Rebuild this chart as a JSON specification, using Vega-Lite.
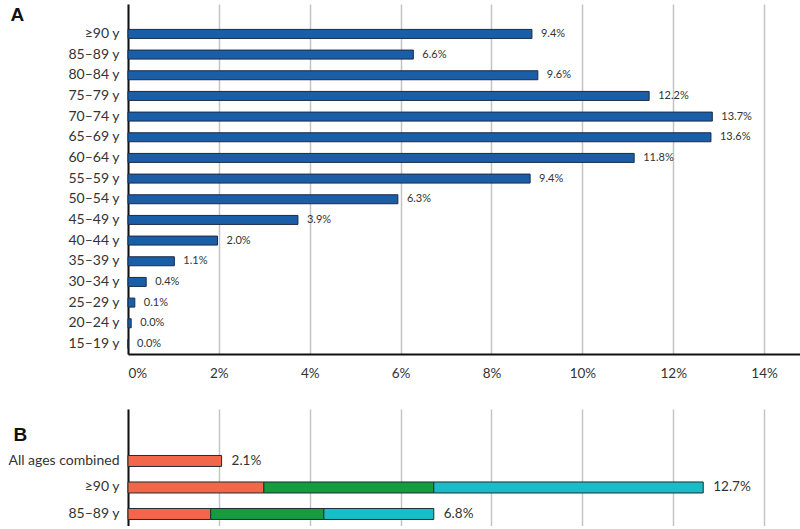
{
  "$schema": "https://vega.github.io/schema/vega-lite/v6.json",
  "padding": {"left": 7, "top": 4, "right": 0, "bottom": 0},
  "autosize": {"type": "pad"},
  "background": "white",
  "spacing": 29,
  "config": {
    "font": "Lato",
    "view": {"stroke": null},
    "axis": {
      "labelFont": "Lato",
      "labelColor": "#333333",
      "ticks": false,
      "gridColor": "#c4c4c4",
      "gridWidth": 1.5,
      "domainColor": "#111111",
      "domainWidth": 2,
      "titleFont": "Liberation Sans",
      "titleFontSize": 19,
      "titleFontWeight": "bold",
      "titleColor": "#111111",
      "titleAngle": 0,
      "titleAlign": "left",
      "titleBaseline": "alphabetic"
    }
  },
  "vconcat": [
    {
      "width": 672,
      "height": 350,
      "data": {"values": [
        {"age": "≥90 y", "bar": 8.89, "label": "9.4%"},
        {"age": "85–89 y", "bar": 6.28, "label": "6.6%"},
        {"age": "80–84 y", "bar": 9.02, "label": "9.6%"},
        {"age": "75–79 y", "bar": 11.47, "label": "12.2%"},
        {"age": "70–74 y", "bar": 12.86, "label": "13.7%"},
        {"age": "65–69 y", "bar": 12.83, "label": "13.6%"},
        {"age": "60–64 y", "bar": 11.14, "label": "11.8%"},
        {"age": "55–59 y", "bar": 8.85, "label": "9.4%"},
        {"age": "50–54 y", "bar": 5.94, "label": "6.3%"},
        {"age": "45–49 y", "bar": 3.74, "label": "3.9%"},
        {"age": "40–44 y", "bar": 1.97, "label": "2.0%"},
        {"age": "35–39 y", "bar": 1.02, "label": "1.1%"},
        {"age": "30–34 y", "bar": 0.40, "label": "0.4%"},
        {"age": "25–29 y", "bar": 0.15, "label": "0.1%"},
        {"age": "20–24 y", "bar": 0.07, "label": "0.0%"},
        {"age": "15–19 y", "bar": 0.0, "label": "0.0%"}
      ]},
      "encoding": {
        "y": {"field": "age", "type": "nominal", "sort": null,
          "scale": {"paddingInner": 0.565, "paddingOuter": 0.75, "align": 0.82},
          "axis": {"labelFontSize": 14, "labelPadding": 9, "grid": false,
            "title": "A", "titleX": -118, "titleY": 16}}
      },
      "layer": [
        {
          "mark": {"type": "bar", "fill": "#1a5ea8", "stroke": "#1b2b45", "strokeWidth": 1},
          "encoding": {
            "x": {"field": "bar", "type": "quantitative",
              "scale": {"domain": [0, 14.79], "nice": false},
              "axis": {"values": [0, 2, 4, 6, 8, 10, 12, 14], "labelExpr": "datum.value + '%'", "labelFontSize": 13.5, "labelPadding": 12, "grid": true, "title": null}}
          }
        },
        {
          "mark": {"type": "text", "align": "left", "dx": 9, "fontSize": 11, "color": "#333333"},
          "encoding": {
            "x": {"field": "bar", "type": "quantitative"},
            "text": {"field": "label"}
          }
        }
      ]
    },
    {
      "width": 672,
      "height": 117,
      "encoding": {
        "y": {"field": "age", "type": "nominal", "sort": null,
          "scale": {"domain": ["All ages combined", "≥90 y", "85–89 y"], "paddingInner": 0.585, "paddingOuter": 1, "align": 0.877},
          "axis": {"labelFontSize": 14, "labelPadding": 9, "grid": false,
            "title": "B", "titleX": -115, "titleY": 31}}
      },
      "layer": [
        {
          "data": {"values": [
            {"age": "All ages combined", "segment": "segment 1", "value": 2.06},
            {"age": "≥90 y", "segment": "segment 1", "value": 2.99},
            {"age": "≥90 y", "segment": "segment 2", "value": 3.74},
            {"age": "≥90 y", "segment": "segment 3", "value": 5.93},
            {"age": "85–89 y", "segment": "segment 1", "value": 1.82},
            {"age": "85–89 y", "segment": "segment 2", "value": 2.49},
            {"age": "85–89 y", "segment": "segment 3", "value": 2.42}
          ]},
          "mark": {"type": "bar", "stroke": "#1f2d33", "strokeWidth": 1},
          "encoding": {
            "x": {"field": "value", "type": "quantitative", "stack": "zero",
              "scale": {"domain": [0, 14.79], "nice": false},
              "axis": {"values": [0, 2, 4, 6, 8, 10, 12, 14], "labels": false, "domain": false, "grid": true, "title": null}},
            "color": {"field": "segment", "type": "nominal",
              "scale": {"domain": ["segment 1", "segment 2", "segment 3"], "range": ["#f26649", "#149c3f", "#1abcc8"]},
              "legend": null},
            "order": {"field": "segment"}
          }
        },
        {
          "data": {"values": [
            {"age": "All ages combined", "total": 2.06, "label": "2.1%"},
            {"age": "≥90 y", "total": 12.66, "label": "12.7%"},
            {"age": "85–89 y", "total": 6.73, "label": "6.8%"}
          ]},
          "mark": {"type": "text", "align": "left", "dx": 10, "fontSize": 13.5, "color": "#333333"},
          "encoding": {
            "x": {"field": "total", "type": "quantitative"},
            "text": {"field": "label"}
          }
        }
      ]
    }
  ]
}
